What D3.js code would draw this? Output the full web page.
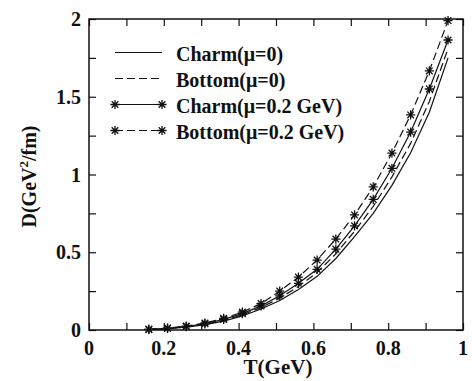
<!DOCTYPE html>
<html>
<head>
<meta charset="utf-8">
<script src="https://cdn.jsdelivr.net/npm/d3@7"></script>
<style>
  body { margin: 0; background: #fff; }
  svg text { font-family: "Liberation Serif", "Times New Roman", serif; font-weight: bold; fill: #111; }
</style>
</head>
<body>
<div id="chart"></div>
<script>
// temperatures (GeV)
const temps = [0.16, 0.21, 0.26, 0.31, 0.36, 0.41, 0.46, 0.51, 0.56, 0.61, 0.66, 0.71, 0.76, 0.81, 0.86, 0.91, 0.96];

// D (GeV^2/fm)
const charmMu0 = [0.003, 0.009, 0.019, 0.034, 0.057, 0.090, 0.135, 0.190, 0.260, 0.345, 0.460, 0.600, 0.750, 0.930, 1.140, 1.400, 1.750];
const bottomMu0 = [0.003, 0.010, 0.021, 0.037, 0.062, 0.097, 0.145, 0.205, 0.280, 0.370, 0.490, 0.635, 0.795, 0.985, 1.200, 1.470, 1.810];
const charmMu02 = [0.004, 0.011, 0.022, 0.040, 0.068, 0.105, 0.155, 0.220, 0.300, 0.390, 0.520, 0.670, 0.840, 1.040, 1.273, 1.550, 1.865];
const bottomMu02 = [0.004, 0.012, 0.025, 0.045, 0.075, 0.115, 0.170, 0.250, 0.340, 0.450, 0.585, 0.740, 0.920, 1.138, 1.383, 1.666, 1.990];

const xTickLabels = [0, 0.2, 0.4, 0.6, 0.8, 1];
const yTickLabels = [0, 0.5, 1, 1.5, 2];

const series = [
    { name: "Charm(μ=0)", values: charmMu0, dash: null, star: false },
    { name: "Bottom(μ=0)", values: bottomMu0, dash: "8,4", star: false },
    { name: "Charm(μ=0.2 GeV)", values: charmMu02, dash: null, star: true },
    { name: "Bottom(μ=0.2 GeV)", values: bottomMu02, dash: "8,4", star: true }
];

const W = 472, H = 381;
const margin = { top: 19, right: 9, bottom: 51, left: 89 },
    width = W - margin.left - margin.right,
    height = H - margin.top - margin.bottom;

const svg = d3.select("#chart")
    .append("svg")
    .attr("width", W)
    .attr("height", H);

const g = svg.append("g")
    .attr("transform", `translate(${margin.left},${margin.top})`);

const x = d3.scaleLinear().domain([0, 1]).range([0, width]);
const y = d3.scaleLinear().domain([0, 2]).range([height, 0]);

const tickLen = 7;

// star marker: plus + cross
function star(sel, cx, cy) {
    const r = 4.6, d = r * 0.72;
    sel.append("path")
        .attr("d", `M${cx - r},${cy}L${cx + r},${cy}M${cx},${cy - r}L${cx},${cy + r}` +
            `M${cx - d},${cy - d}L${cx + d},${cy + d}M${cx - d},${cy + d}L${cx + d},${cy - d}`)
        .attr("stroke", "#111")
        .attr("stroke-width", 1.3)
        .attr("fill", "none");
}

// axes (ticks inward on all four sides)
const xTicks = d3.range(0, 11).map(i => i / 10);
const yTicks = d3.range(0, 9).map(i => i / 4);

g.append("g")
    .attr("transform", `translate(0,${height})`)
    .call(d3.axisBottom(x).tickValues(xTicks).tickSize(-tickLen).tickFormat(""))
    .call(a => a.select(".domain").remove());
g.append("g")
    .call(d3.axisTop(x).tickValues(xTicks).tickSize(-tickLen).tickFormat(""))
    .call(a => a.select(".domain").remove());
g.append("g")
    .call(d3.axisLeft(y).tickValues(yTicks).tickSize(-tickLen).tickFormat(""))
    .call(a => a.select(".domain").remove());
g.append("g")
    .attr("transform", `translate(${width},0)`)
    .call(d3.axisRight(y).tickValues(yTicks).tickSize(-tickLen).tickFormat(""))
    .call(a => a.select(".domain").remove());
g.selectAll(".tick line").attr("stroke", "#111").attr("stroke-width", 1.2);

g.append("rect")
    .attr("width", width)
    .attr("height", height)
    .attr("fill", "none")
    .attr("stroke", "#111")
    .attr("stroke-width", 1.5);

// tick labels
g.selectAll(".xlab")
    .data(xTickLabels)
    .enter()
    .append("text")
    .attr("x", d => x(d))
    .attr("y", height + 25)
    .attr("text-anchor", "middle")
    .attr("font-size", 20)
    .text(d => d);

g.selectAll(".ylab")
    .data(yTickLabels)
    .enter()
    .append("text")
    .attr("x", -8)
    .attr("y", d => y(d) + 7)
    .attr("text-anchor", "end")
    .attr("font-size", 20)
    .text(d => d);

// axis titles
svg.append("text")
    .attr("x", margin.left + x(0.5) + 2)
    .attr("y", 374)
    .attr("text-anchor", "middle")
    .attr("font-size", 21)
    .text("T(GeV)");

const yTitle = svg.append("text")
    .attr("transform", `translate(36,${margin.top + y(1) + 2}) rotate(-90)`)
    .attr("text-anchor", "middle")
    .attr("font-size", 20);
yTitle.append("tspan").text("D(GeV");
yTitle.append("tspan").attr("font-size", 13).attr("dy", -8).text("2");
yTitle.append("tspan").attr("dy", 8).text("/fm)");

// curves
const line = d3.line()
    .x((d, i) => x(temps[i]))
    .y(d => y(d));

series.forEach(s => {
    g.append("path")
        .datum(s.values)
        .attr("fill", "none")
        .attr("stroke", "#111")
        .attr("stroke-width", 1.2)
        .attr("stroke-dasharray", s.dash)
        .attr("d", line);
    if (s.star) {
        s.values.forEach((v, i) => star(g, x(temps[i]), y(v)));
    }
});

// legend
const legend = svg.append("g");
series.forEach((s, i) => {
    const ly = 52.5 + i * 26;
    legend.append("line")
        .attr("x1", 115).attr("x2", 162)
        .attr("y1", ly).attr("y2", ly)
        .attr("stroke", "#111")
        .attr("stroke-width", 1.2)
        .attr("stroke-dasharray", s.dash);
    if (s.star) {
        star(legend, 115, ly);
        star(legend, 162, ly);
    }
    legend.append("text")
        .attr("x", 176)
        .attr("y", ly + 8)
        .attr("font-size", 20)
        .text(s.name);
});
</script>
</body>
</html>
